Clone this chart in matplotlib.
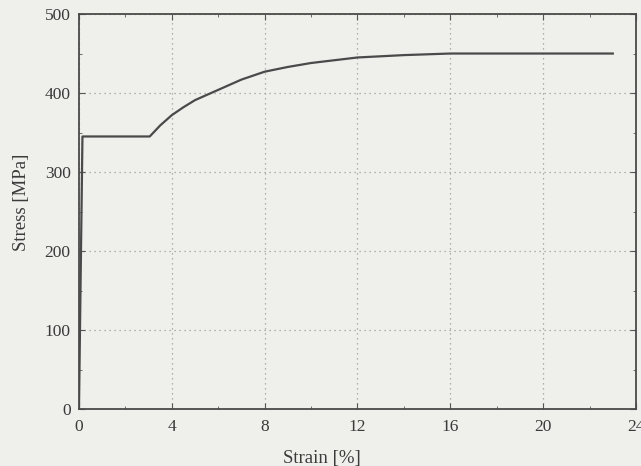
import numpy as np
import matplotlib.pyplot as plt
from matplotlib.ticker import MultipleLocator

# Stress-strain curve.
strain = [0, 0.15, 3.05, 3.5, 4, 4.5, 5, 6, 7, 8, 9, 10, 12, 14, 16, 18, 20, 23]
stress = [0, 345, 345, 359, 372, 382, 391, 404, 417, 427, 433, 438, 445, 448, 450, 450, 450, 450]

x_ticks = [0, 4, 8, 12, 16, 20, 24]
y_ticks = [0, 100, 200, 300, 400, 500]

plt.rcParams['font.family'] = ['Liberation Serif', 'DejaVu Serif']

fig = plt.figure(figsize=(6.41, 4.66), dpi=100, facecolor='#efefec')
ax = fig.add_axes([0.1232, 0.1223, 0.869, 0.8476])
ax.set_facecolor('#efefec')

ax.plot(strain, stress, color='#4a4a4a', lw=1.6)

ax.set_xlim(0, 24)
ax.set_ylim(0, 500)
ax.set_xticks(x_ticks)
ax.set_yticks(y_ticks)
ax.xaxis.set_minor_locator(MultipleLocator(2))
ax.yaxis.set_minor_locator(MultipleLocator(50))
ax.tick_params(which='both', direction='in', colors='#555555', labelcolor='#3a3a3a',
               labelsize=12.5, top=True, right=True)
ax.tick_params(which='major', length=4)
ax.tick_params(which='minor', length=2.5)
ax.tick_params(axis='x', pad=7)
ax.tick_params(axis='y', pad=6)
ax.grid(True, which='major', linestyle=(0, (1, 3)), color='#9a9a9a', lw=0.9)

for s in ax.spines.values():
    s.set_color('#4a4a4a')
    s.set_linewidth(1.3)

ax.set_xlabel('Strain [%]', fontsize=13.5, color='#3a3a3a')
ax.set_ylabel('Stress [MPa]', fontsize=13.5, color='#3a3a3a')
ax.xaxis.set_label_coords(0.436, -0.103)
ax.yaxis.set_label_coords(-0.088, 0.524)

fig.savefig('out.png', dpi=100, facecolor=fig.get_facecolor())
